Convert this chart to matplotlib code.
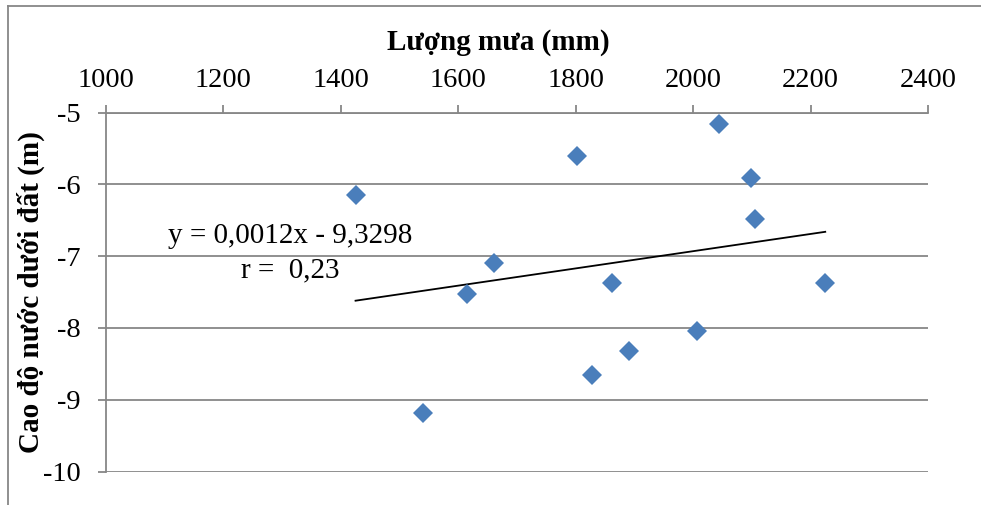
import numpy as np
import matplotlib
matplotlib.use("Agg")
import matplotlib.pyplot as plt
from matplotlib.lines import Line2D

# --- Du lieu (doc tu hinh) ---
luong_mua = [1425, 1540, 1615, 1660, 1802, 1828, 1862, 1890, 2007, 2044, 2099, 2105, 2225]
cao_do = [-6.14, -9.19, -7.52, -7.09, -5.60, -8.65, -7.37, -8.32, -8.04, -5.16, -5.91, -6.48, -7.38]

slope = 0.0012
intercept = -9.3298
r_value = "0,23"

x_ticks = [1000, 1200, 1400, 1600, 1800, 2000, 2200, 2400]
y_ticks = [-10, -9, -8, -7, -6, -5]

FONT = ["Liberation Serif", "DejaVu Serif"]
GRID = "#878787"
BLUE = "#4A7EBB"

plt.rcParams["font.family"] = FONT
plt.rcParams["axes.unicode_minus"] = False

fig = plt.figure(figsize=(9.81, 5.05), dpi=100)
ax = fig.add_axes([106 / 981, 1 - 471.5 / 505, 822 / 981, (471.5 - 112.7) / 505])

# trend line
x_fit = np.array([min(luong_mua), max(luong_mua)])
ax.plot(x_fit, slope * x_fit + intercept, color="black", lw=1.3, zorder=3)

ax.plot(luong_mua, cao_do, linestyle="none", marker="D", markersize=10.5,
        markerfacecolor=BLUE, markeredgewidth=0, zorder=4, clip_on=False)

ax.set_xlim(1000, 2400)
ax.set_ylim(-10, -5)
ax.set_xticks(x_ticks)
ax.set_yticks(y_ticks)
ax.xaxis.tick_top()
ax.tick_params(axis="x", direction="out", length=6, width=1.3, color=GRID,
               labelsize=20.5, pad=8)
ax.tick_params(axis="y", direction="out", length=6, width=1.3, color=GRID,
               labelsize=20.5, pad=12)
ax.grid(axis="y", color=GRID, lw=1.3)
ax.set_axisbelow(True)

for side in ["right", "bottom"]:
    ax.spines[side].set_visible(False)
for side in ["left", "top"]:
    ax.spines[side].set_color(GRID)
    ax.spines[side].set_linewidth(1.3)

# chu thich phuong trinh
ax.text(1313, -6.816, f"y = {slope:.4f}x - {abs(intercept):.4f}".replace(".", ","),
        fontsize=21, ha="center", va="baseline")
ax.text(1313, -7.29, f"r =  {r_value}", fontsize=21, ha="center", va="baseline")

fig.text(498 / 981, 1 - 50 / 505, "Lượng mưa (mm)", fontsize=21, fontweight="bold",
         ha="center", va="baseline")
fig.text(31 / 981, 1 - 292 / 505, "Cao độ nước dưới đất (m)", fontsize=21,
         fontweight="bold", rotation=90, ha="center", va="center")

# khung ngoai (chi canh tren va trai)
fig.add_artist(Line2D([8 / 981, 8 / 981], [0, 1 - 6 / 505], color=GRID, lw=1.3))
fig.add_artist(Line2D([8 / 981, 1], [1 - 6 / 505, 1 - 6 / 505], color=GRID, lw=1.3))

fig.savefig("out.png", dpi=100)
